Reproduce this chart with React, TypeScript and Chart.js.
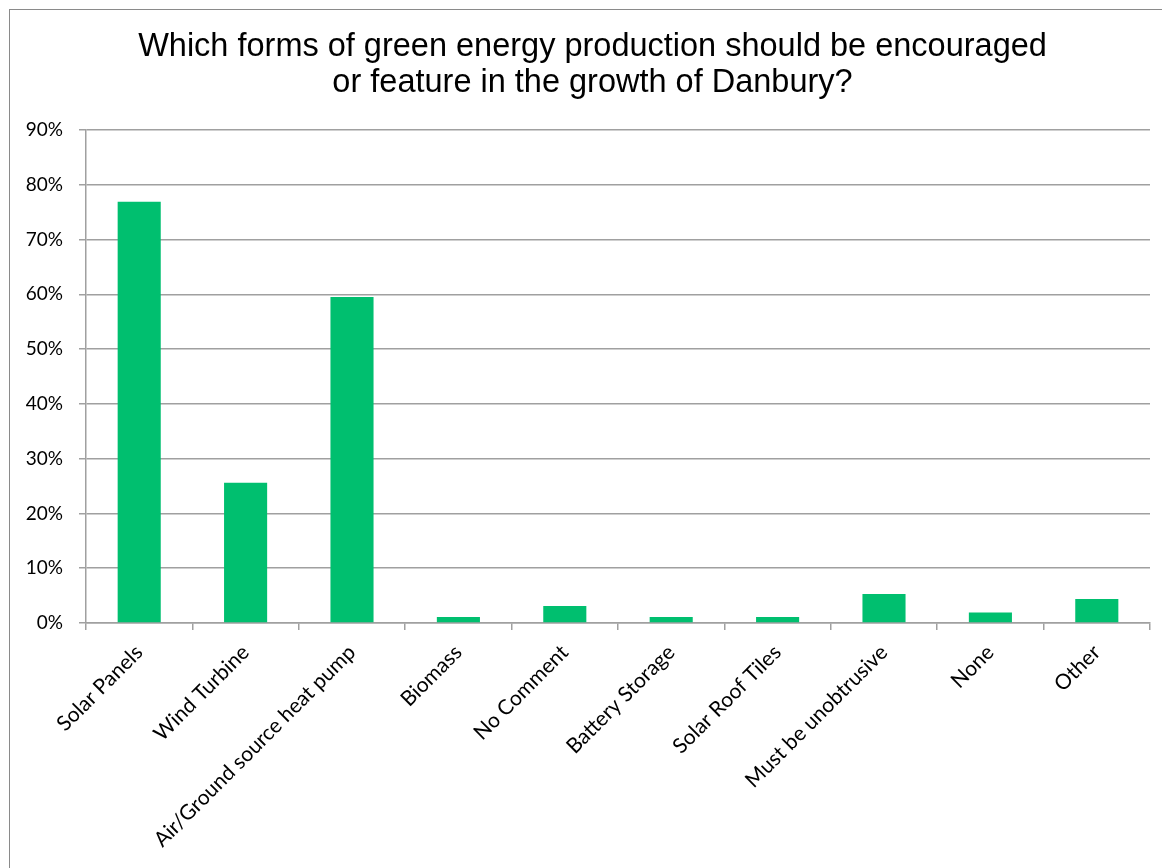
import React, { useEffect, useRef } from "react";
import { Chart, registerables } from "chart.js";

Chart.register(...registerables);

const titleLines = [
  "Which forms of green energy production should be encouraged",
  "or feature in the growth of Danbury?",
];
const categories = [
  "Solar Panels",
  "Wind Turbine",
  "Air/Ground source heat pump",
  "Biomass",
  "No Comment",
  "Battery Storage",
  "Solar Roof Tiles",
  "Must be unobtrusive",
  "None",
  "Other",
];
const values = [76.9, 25.6, 59.5, 1.1, 3.1, 1.1, 1.1, 5.3, 1.9, 4.4];
const yTicks = [0, 10, 20, 30, 40, 50, 60, 70, 80, 90];

const titlePlugin = {
  id: "centeredTitle",
  afterDraw(chart: any) {
    const ctx = chart.ctx;
    ctx.save();
    ctx.fillStyle = "#000";
    ctx.font = "32.5px 'Liberation Sans', Arial, sans-serif";
    ctx.textAlign = "center";
    ctx.textBaseline = "middle";
    const cx = 592.5;
    const top = 47;
    const lh = 36;
    titleLines.forEach((line, i) => ctx.fillText(line, cx, top + i * lh));
    ctx.restore();
  },
};

export default function App() {
  const ref = useRef<HTMLCanvasElement | null>(null);
  useEffect(() => {
    if (!ref.current) return;
    const grid = "#a0a0a0";
    const chart = new Chart(ref.current, {
      type: "bar",
      data: {
        labels: categories,
        datasets: [
          {
            data: values,
            backgroundColor: "#00bf6f",
            borderWidth: 0,
            barPercentage: 0.405,
            categoryPercentage: 1,
          },
        ],
      },
      plugins: [titlePlugin],
      options: {
        animation: false,
        responsive: false,
        maintainAspectRatio: false,
        layout: { padding: { left: 0, right: 12, top: 130, bottom: 0 } },
        plugins: {
          legend: { display: false },
          tooltip: { enabled: false },
          title: { display: false },
        },
        scales: {
          x: {
            afterFit: (s: any) => {
              s.height = 245;
            },
            grid: {
              offset: true,
              drawOnChartArea: false,
              drawTicks: true,
              tickLength: 7,
              color: grid,
              lineWidth: 1.5,
            },
            border: { display: true, color: grid, width: 1.5 },
            ticks: {
              autoSkip: false,
              minRotation: 45,
              maxRotation: 45,
              padding: 10,
              color: "#000",
              font: { family: "Lato, 'Noto Sans', sans-serif", size: 21 },
            },
          },
          y: {
            min: 0,
            max: 90,
            afterFit: (s: any) => {
              s.width = 86;
            },
            afterBuildTicks: (s: any) => {
              s.ticks = yTicks.map((v) => ({ value: v }));
            },
            grid: {
              color: grid,
              lineWidth: 1.5,
              tickLength: 7,
            },
            border: { display: true, color: grid, width: 1.5 },
            ticks: {
              padding: 16,
              color: "#000",
              font: { family: "Lato, 'Noto Sans', sans-serif", size: 19 },
              callback: (v: any) => v + "%",
            },
          },
        },
      },
    });
    return () => chart.destroy();
  }, []);
  return (
    <div
      style={{
        position: "fixed",
        left: 0,
        top: 0,
        width: 1162,
        height: 868,
        overflow: "hidden",
        background: "#fff",
      }}
    >
      <div
        style={{
          position: "absolute",
          left: 9,
          top: 9,
          width: 1200,
          height: 900,
          border: "1.5px solid #8a8a8a",
        }}
      />
      <canvas ref={ref} width={1162} height={868} style={{ position: "absolute", left: 0, top: 0 }} />
    </div>
  );
}
